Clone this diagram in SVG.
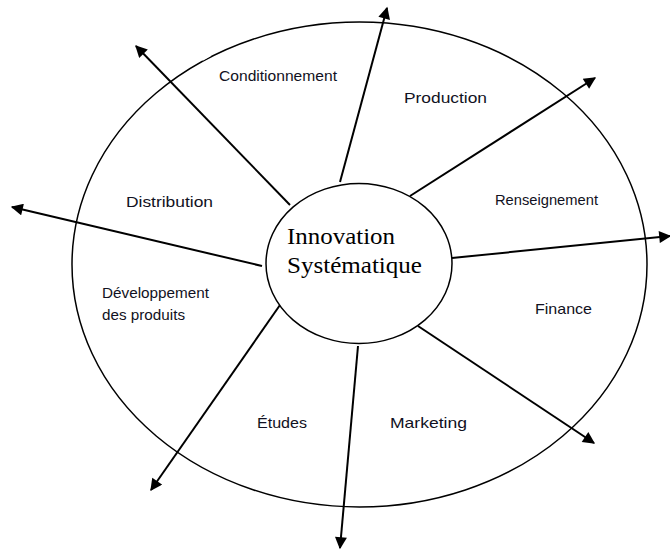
<svg xmlns="http://www.w3.org/2000/svg" width="670" height="551" viewBox="0 0 670 551">
<defs>
<style>
.ring{fill:none;stroke:#000;stroke-width:1.5}
.core{fill:#fff;stroke:#000;stroke-width:1.5}
.arr{fill:none;stroke:#000;stroke-width:2;marker-end:url(#ah)}
.lbl{font-family:"Liberation Sans",Arial,sans-serif;font-size:15px;fill:#111122}
.ctr{font-family:"Liberation Serif","Times New Roman",serif;font-size:24px;fill:#000}
</style>
<marker id="ah" viewBox="0 0 10 10" refX="9" refY="5" markerWidth="7" markerHeight="6" markerUnits="strokeWidth" orient="auto">
<path d="M0,0 L10,5 L0,10 Z" fill="#000"/>
</marker>
</defs>
<rect width="670" height="551" fill="#fff"/>
<g id="outer">
<ellipse class="ring" cx="359.5" cy="264.5" rx="287.5" ry="242.5"/>
<line x1="202" y1="59.5" x2="210" y2="55" stroke="#fff" stroke-width="3"/>
</g>
<g id="connectors">
<line class="arr" x1="290" y1="205" x2="136" y2="46"/>
<line class="arr" x1="262" y1="266" x2="12" y2="207"/>
<line class="arr" x1="340" y1="182" x2="387" y2="8"/>
<line class="arr" x1="410" y1="196" x2="595" y2="78"/>
<line class="arr" x1="452" y1="258" x2="670" y2="236"/>
<line class="arr" x1="418" y1="326" x2="594" y2="443"/>
<line class="arr" x1="358" y1="346" x2="340" y2="548"/>
<line class="arr" x1="280" y1="305" x2="151" y2="490"/>
</g>
<g id="center">
<ellipse class="core" cx="359" cy="263.5" rx="93" ry="80"/>
<text class="ctr" x="287" y="244" textLength="108" lengthAdjust="spacingAndGlyphs">Innovation</text>
<text class="ctr" x="287" y="273" textLength="135" lengthAdjust="spacingAndGlyphs">Systématique</text>
</g>
<g id="conditionnement"><text class="lbl" x="219" y="81" textLength="118" lengthAdjust="spacingAndGlyphs">Conditionnement</text></g>
<g id="production"><text class="lbl" x="404" y="103" textLength="83" lengthAdjust="spacingAndGlyphs">Production</text></g>
<g id="distribution"><text class="lbl" x="126" y="207" textLength="87" lengthAdjust="spacingAndGlyphs">Distribution</text></g>
<g id="renseignement"><text class="lbl" x="495" y="205" textLength="103" lengthAdjust="spacingAndGlyphs">Renseignement</text></g>
<g id="developpement">
<text class="lbl" x="102" y="298" textLength="107" lengthAdjust="spacingAndGlyphs">Développement</text>
<text class="lbl" x="102" y="320" textLength="83" lengthAdjust="spacingAndGlyphs">des produits</text>
</g>
<g id="finance"><text class="lbl" x="535" y="314" textLength="57" lengthAdjust="spacingAndGlyphs">Finance</text></g>
<g id="etudes"><text class="lbl" x="257" y="428" textLength="50" lengthAdjust="spacingAndGlyphs">Études</text></g>
<g id="marketing"><text class="lbl" x="390" y="428" textLength="77" lengthAdjust="spacingAndGlyphs">Marketing</text></g>
</svg>
